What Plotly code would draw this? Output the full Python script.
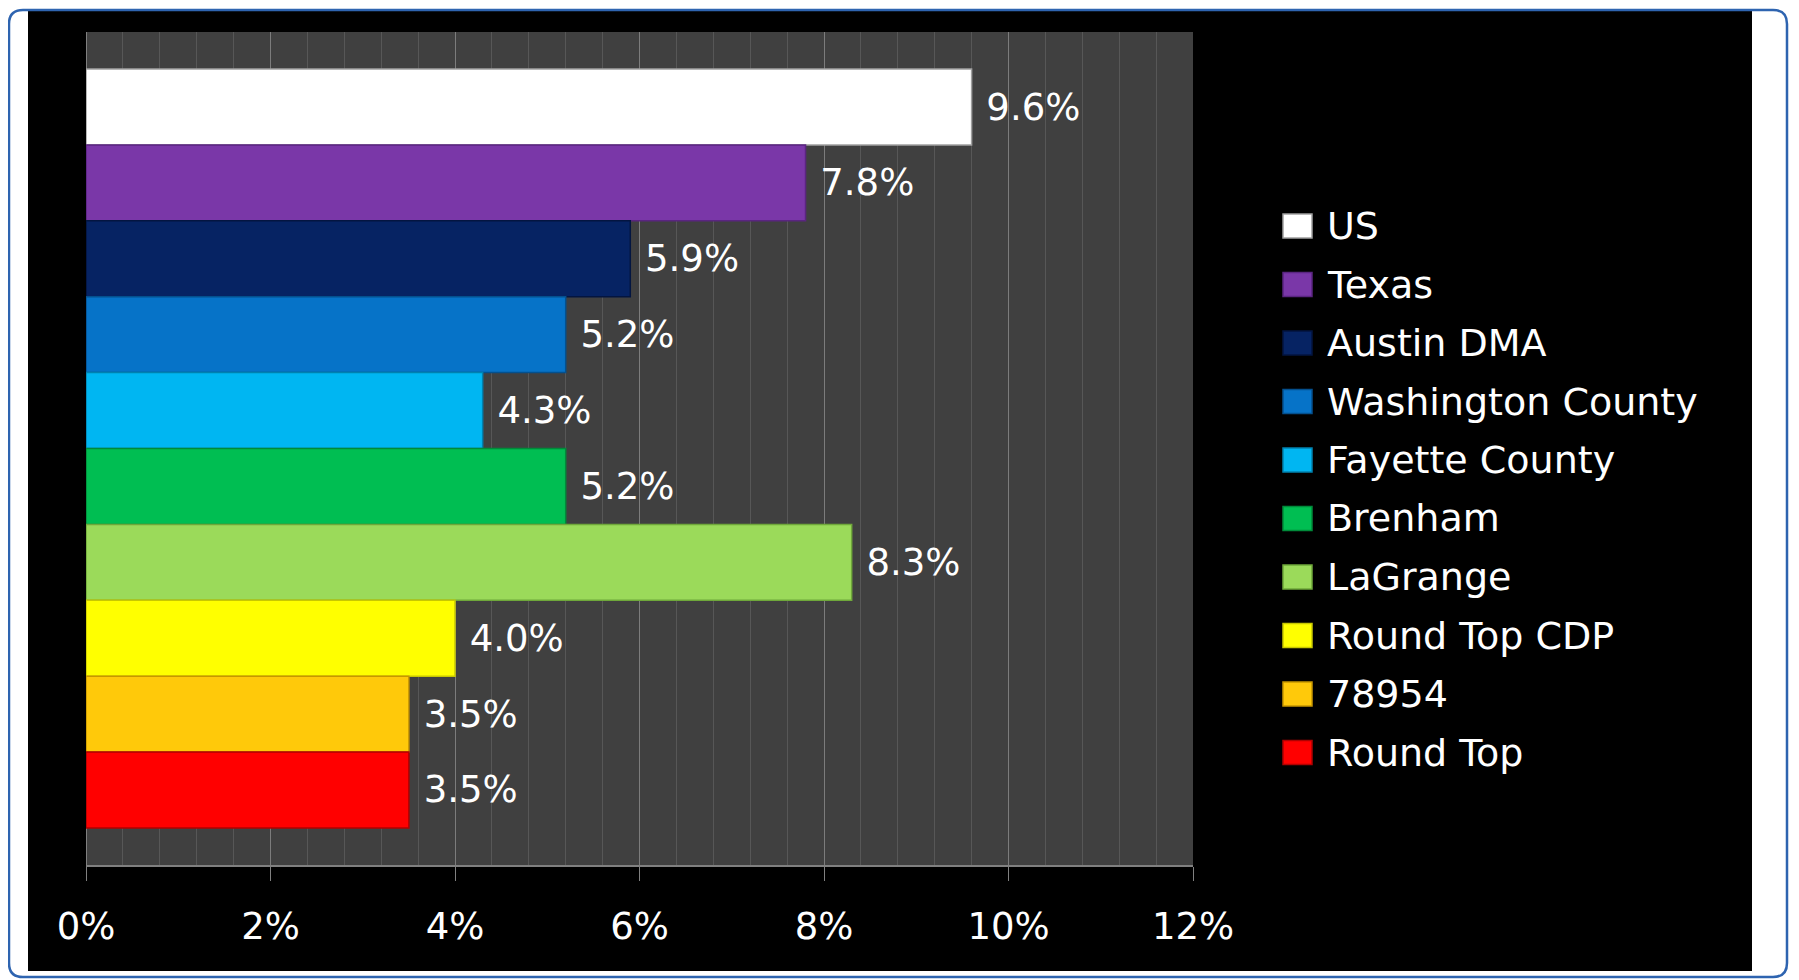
import plotly.graph_objects as go

# ---- data ----
series_names = ["US", "Texas", "Austin DMA", "Washington County", "Fayette County",
                "Brenham", "LaGrange", "Round Top CDP", "78954", "Round Top"]
series_values = [0.096, 0.078, 0.059, 0.052, 0.043, 0.052, 0.083, 0.040, 0.035, 0.035]
series_colors = ["#FFFFFF", "#7A37A8", "#062363", "#0673C8", "#00B6F2",
                 "#00BE52", "#9BDA5A", "#FFFF00", "#FFC90A", "#FF0000"]
edge_colors = ["#A0A0A0", "#5A2580", "#031540", "#04508E", "#0082B0",
               "#008A3A", "#6FA83A", "#C8C800", "#C89600", "#B00000"]
category = [0]
x_ticks = [0, 0.02, 0.04, 0.06, 0.08, 0.10, 0.12]

W, H = 1799, 980
OFF = 8  # page body margin
L, R, T, B = 86, 1193, 32, 865  # plot area in screen pixels
PW, PH = R - L, B - T


def px(xp):
    return (xp - L) / PW


def py(yp):
    return (B - yp) / PH


FONT = "DejaVu Sans"
FS = 37
LEG_FS = 38

fig = go.Figure()
for name, val, col, ecol in zip(series_names, series_values, series_colors, edge_colors):
    fig.add_trace(go.Bar(
        x=[val], y=category, orientation="h", name=name,
        marker=dict(color=col, line=dict(color=ecol, width=1.5)),
        texttemplate="\u00a0%{x:.1%}", textposition="outside",
        textfont=dict(family=FONT, size=FS, color="white"),
        constraintext="none", cliponaxis=False, showlegend=False,
        hovertemplate=name + ": %{x:.1%}<extra></extra>",
    ))

shapes = []
# black panel
shapes.append(dict(type="rect", xref="paper", yref="paper", layer="below",
                   x0=px(28), x1=px(1752), y0=py(971), y1=py(11),
                   fillcolor="black", line=dict(width=0)))
# plot background
shapes.append(dict(type="rect", xref="paper", yref="paper", layer="below",
                   x0=0, x1=1, y0=0, y1=1, fillcolor="#404040", line=dict(width=0)))
# rounded blue frame
r = 14
x0, x1, y0, y1 = 9, 1787, 10, 977
path = (f"M {px(x0 + r)},{py(y0)} L {px(x1 - r)},{py(y0)} "
        f"Q {px(x1)},{py(y0)} {px(x1)},{py(y0 + r)} "
        f"L {px(x1)},{py(y1 - r)} Q {px(x1)},{py(y1)} {px(x1 - r)},{py(y1)} "
        f"L {px(x0 + r)},{py(y1)} Q {px(x0)},{py(y1)} {px(x0)},{py(y1 - r)} "
        f"L {px(x0)},{py(y0 + r)} Q {px(x0)},{py(y0)} {px(x0 + r)},{py(y0)} Z")
shapes.append(dict(type="path", xref="paper", yref="paper", layer="below",
                   path=path, line=dict(color="#2E64B0", width=2.5)))

# manual legend with large swatches
annotations = []
leg_y0, leg_step = 226, 58.5
for i, (name, col, ecol) in enumerate(zip(series_names, series_colors, edge_colors)):
    cy = leg_y0 + i * leg_step
    shapes.append(dict(type="rect", xref="paper", yref="paper",
                       x0=px(1283), x1=px(1312), y0=py(cy + 12), y1=py(cy - 12),
                       fillcolor=col, line=dict(color=ecol, width=1.5)))
    annotations.append(dict(xref="paper", yref="paper", x=px(1325), y=py(cy),
                            xanchor="left", yanchor="middle", text=name, showarrow=False,
                            font=dict(family=FONT, size=LEG_FS, color="white")))

fig.update_layout(
    width=W, height=H,
    margin=dict(l=L - OFF, r=W - (R - OFF), t=T - OFF, b=H - (B - OFF), pad=0),
    paper_bgcolor="white", plot_bgcolor="rgba(0,0,0,0)",
    barmode="group", bargap=0.089, bargroupgap=0,
    shapes=shapes, annotations=annotations,
    showlegend=False,
    font=dict(family=FONT, size=FS, color="white"),
    xaxis=dict(range=[0, 0.12], tickvals=x_ticks, tickformat=".0%",
               showgrid=True, gridcolor="#7C7C7C", gridwidth=1,
               minor=dict(dtick=0.004, showgrid=True, gridcolor="#575757", gridwidth=1),
               ticks="outside", ticklen=14, tickcolor="#808080", tickwidth=1,
               showline=True, linecolor="#808080", linewidth=1.5,
               zeroline=True, zerolinecolor="#808080", zerolinewidth=1,
               ticklabelstandoff=14,
               tickfont=dict(family=FONT, size=FS, color="white")),
    yaxis=dict(range=[0.5, -0.5], showticklabels=False,
               showgrid=False, zeroline=False, showline=False, ticks=""),
)

fig.write_html("out.html")
